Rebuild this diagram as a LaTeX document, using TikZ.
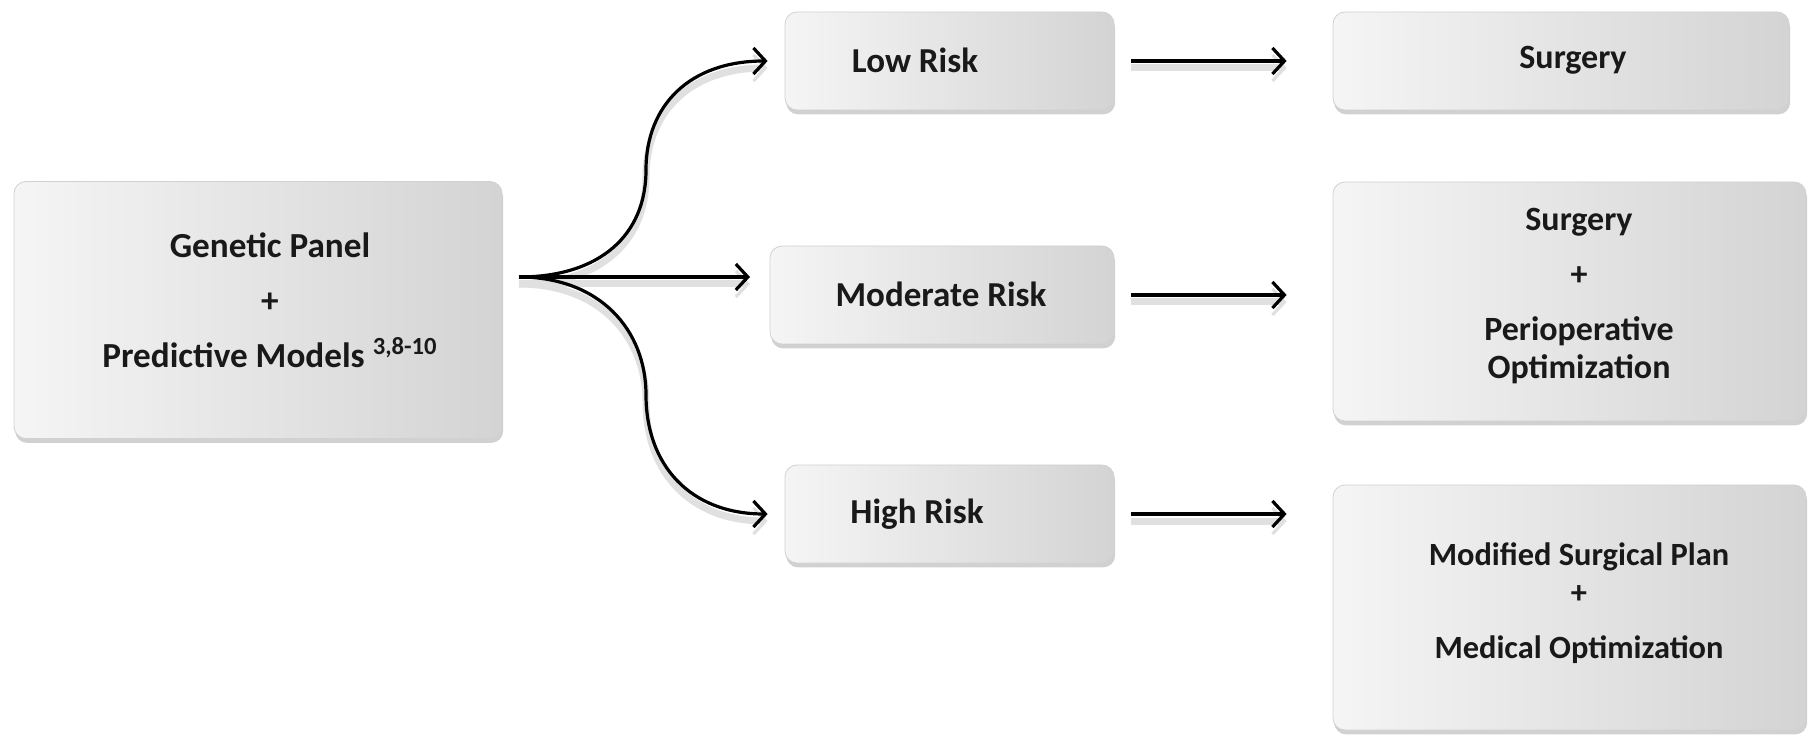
\documentclass[tikz,border=0pt]{standalone}
\usepackage{fontspec}
\setmainfont{Carlito}
\usetikzlibrary{arrows.meta,shadows}
\begin{document}
\begin{tikzpicture}[x=0.5pt,y=-0.5pt,
  box/.style={rectangle, rounded corners=6pt, left color=black!4, right color=black!17,
    draw=black!18, line width=0.4pt, inner sep=0pt,
    drop shadow={shadow xshift=0.6pt, shadow yshift=-2.2pt, opacity=0.3, fill=black!60}},
  lbl/.style={font=\fontsize{17}{19}\selectfont\bfseries, align=center, text=black!90, inner sep=0pt},
  arr/.style={line width=1.6pt, -{Straight Barb[length=6pt,width=13pt,line width=1.6pt]},
    preaction={draw=black!12, line width=3.5pt, transform canvas={yshift=-3.5pt}}}
]
\useasboundingbox (0,0) rectangle (1810,737);
% boxes
\node[box, minimum width=244pt, minimum height=128.5pt] (gen) at (258,310) {};
\node[box, minimum width=164.5pt, minimum height=49pt] (low) at (949.5,61) {};
\node[box, minimum width=172pt, minimum height=49pt] (mod) at (942,295) {};
\node[box, minimum width=164.5pt, minimum height=49pt] (high) at (949.5,514) {};
\node[box, minimum width=228pt, minimum height=49pt] (surg) at (1561,61) {};
\node[box, minimum width=236.5pt, minimum height=119.5pt] (midr) at (1569.5,301.5) {};
\node[box, minimum width=236.5pt, minimum height=122.5pt] (botr) at (1569.5,607.5) {};
% texts
\node[lbl, font=\fontsize{17.6}{19}\selectfont\bfseries] (tgen) at (270,300) {Genetic Panel\\[8.5pt]+\\[8.5pt]Predictive Models \textsuperscript{3,8-10}};
\node[lbl, font=\fontsize{17.5}{19}\selectfont\bfseries] (tlow) at (915,60) {Low Risk};
\node[lbl, font=\fontsize{17.5}{19}\selectfont\bfseries] (tmod) at (941,294) {Moderate Risk};
\node[lbl, font=\fontsize{17.5}{19}\selectfont\bfseries] (thigh) at (917,514) {High Risk};
\node[lbl] (tsurg) at (1573,60) {Surgery};
\node[lbl] (tmidr) at (1579,296.5) {Surgery\\[8.5pt]+\\[8.5pt]Perioperative\\Optimization};
\node[lbl, font=\fontsize{16.2}{19}\selectfont\bfseries] (tbotr) at (1579,603) {Modified Surgical Plan\\+\\[8.5pt]Medical Optimization};
% connectors
\coordinate (fork) at (519,277);
\coordinate (mtip) at (750,277);
\draw[arr, shorten >=8.5pt] (fork) .. controls (600,277) and (646,235) .. (646,170)
  .. controls (646,105) and (690,61) .. (low.west);
\draw[arr] (fork) -- (mtip);
\draw[arr, shorten >=8.5pt] (fork) .. controls (600,277) and (646,330) .. (646,395)
  .. controls (646,465) and (690,514) .. (high.west);
\draw[arr, shorten <=8.5pt, shorten >=23pt] (low.east) -- (surg.west);
\draw[arr, shorten <=8.5pt, shorten >=23pt] (mod.east) -- (mod.east -| midr.west);
\draw[arr, shorten <=8.5pt, shorten >=23pt] (high.east) -- (high.east -| botr.west);
\end{tikzpicture}
\end{document}
